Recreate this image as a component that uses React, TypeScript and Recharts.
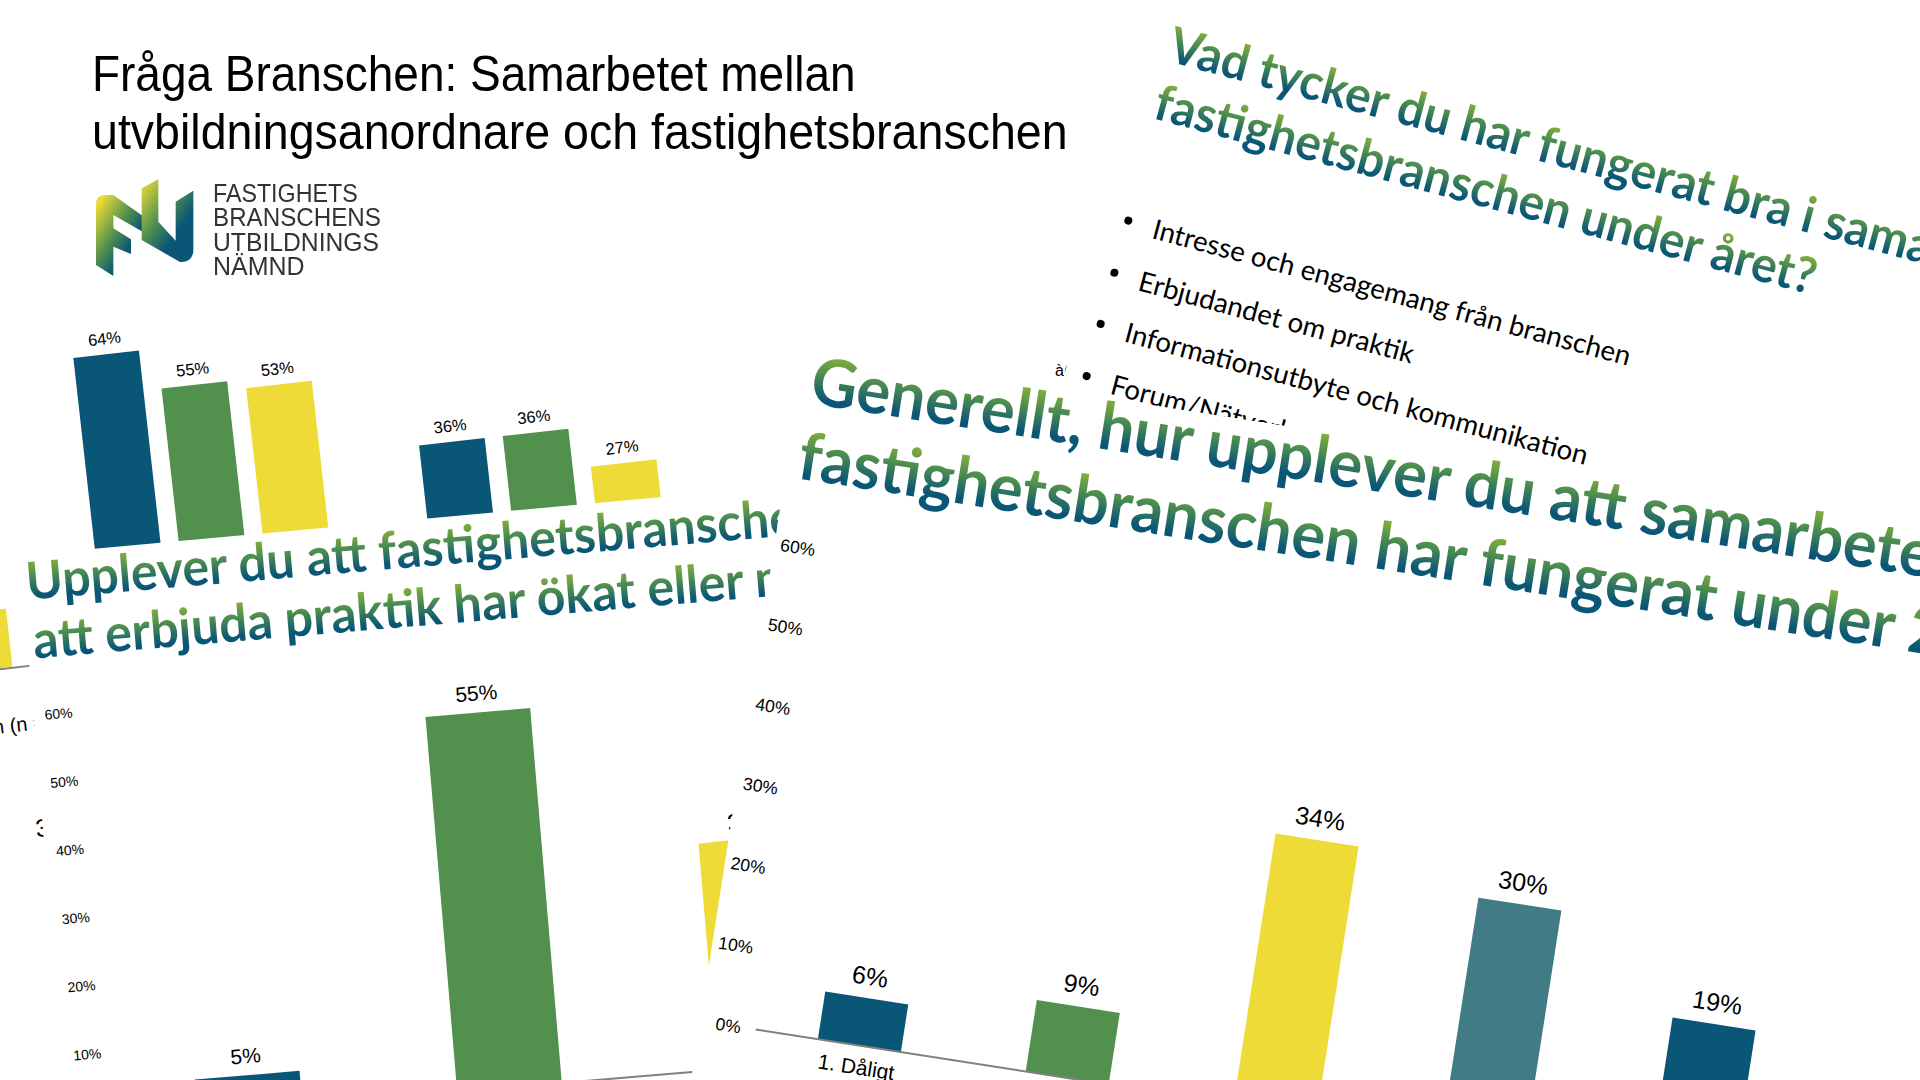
import React from "react";
import { BarChart, Bar, XAxis, YAxis, Cell, LabelList } from "recharts";

const BLUE = "#0a5676";
const GREEN = "#52904e";
const YELLOW = "#eedb38";
const TEAL = "#417b85";
const AXIS = "#808080";
const SANS = "'Liberation Sans', Arial, sans-serif";
const HEAD = "Lato, sans-serif";

// top left slide
const groupNames = ["Grupp 1", "Grupp 2"];
const firstValues = [64, 36];
const secondValues = [55, 36];
const thirdValues = [53, 27];

// "Upplever du ..." slide
const trendNames = ["Minskat", "Oförändrat", "Ökat"];
const trendValues = [5, 55, null];
const trendColors = [BLUE, GREEN, YELLOW];

// "Generellt ..." slide
const gradeNames = ["1. Dåligt", "2.", "3.", "4.", "5. Bra"];
const gradeValues = [6, 9, 34, 30, 19];
const gradeColors = [BLUE, GREEN, YELLOW, TEAL, BLUE];

// slides lying underneath, only slivers of them show
const backLeftValues = [13];
const backRightValues = [33];

const percentTicks = [0, 10, 20, 30, 40, 50, 60];

const bulletLines = [
  "Intresse och engagemang från branschen",
  "Erbjudandet om praktik",
  "Informationsutbyte och kommunikation",
  "Forum/Nätverk",
];

const logoLines = ["FASTIGHETS", "BRANSCHENS", "UTBILDNINGS", "NÄMND"];
const logoStretch = [0.894, 0.93, 0.95, 0.96];

const pct = (v: any) => (v === null || v === undefined ? "" : `${v}%`);
const toRows = (names: string[], values: any[]) => names.map((name, i) => ({ name, value: values[i] }));

const Layer = ({ angle, children }: { angle: number; children: React.ReactNode }) => (
  <div style={{ position: "absolute", left: 0, top: 0, width: 0, height: 0, transform: `rotate(${angle}deg)`, transformOrigin: "0 0" }}>
    {children}
  </div>
);

const Panel = ({ left, top, width, height, children }: any) => (
  <div style={{ position: "absolute", left, top, width, height, background: "#fff", overflow: "hidden" }}>{children}</div>
);

const HeadLine = ({ left, baseline, size, text, sx = 1 }: any) => (
  <span
    style={{
      position: "absolute",
      left,
      top: baseline - size,
      fontFamily: HEAD,
      fontWeight: 700,
      fontSize: size,
      lineHeight: `${size * 1.25}px`,
      whiteSpace: "nowrap",
      transform: `scaleX(${sx})`,
      transformOrigin: "0 0",
      color: "transparent",
      backgroundImage: "linear-gradient(180deg, #93b738 14%, #4f8f4e 42%, #0a5676 74%)",
      WebkitBackgroundClip: "text",
      backgroundClip: "text",
    }}
  >
    {text}
  </span>
);

const Plain = ({ left, top, size, text, font = SANS, color = "#000", sx = 1, lh = 1.2 }: any) => (
  <span
    style={{
      position: "absolute",
      left,
      top,
      fontFamily: font,
      fontSize: size,
      lineHeight: `${size * lh}px`,
      whiteSpace: "nowrap",
      color,
      transform: `scaleX(${sx})`,
      transformOrigin: "0 0",
    }}
  >
    {text}
  </span>
);

const Logo = () => (
  <svg style={{ position: "absolute", left: 85, top: 170 }} width={310} height={115} viewBox="0 0 930 345">
    <defs>
      <linearGradient id="logoF" x1="0.05" y1="0.1" x2="0.8" y2="0.85">
        <stop offset="0" stopColor="#eedb38" />
        <stop offset="0.45" stopColor="#52904e" />
        <stop offset="0.75" stopColor="#0a5676" />
      </linearGradient>
      <linearGradient id="logoU" x1="0.05" y1="0" x2="0.75" y2="0.8">
        <stop offset="0" stopColor="#eedb38" />
        <stop offset="0.5" stopColor="#52904e" />
        <stop offset="0.85" stopColor="#0a5676" />
      </linearGradient>
    </defs>
    <path d="M33 100 Q36 75 60 75 L85 75 L190 150 L190 195 L85 135 L85 175 L138 208 L138 252 L85 230 L85 318 L33 285 Z" fill="url(#logoF)" />
    <path d="M170 55 L220 28 L220 155 L272 212 L272 95 L325 62 L325 245 Q320 278 285 276 L170 210 Z" fill="url(#logoU)" />
  </svg>
);

export default function App() {
  return (
    <div style={{ position: "absolute", left: 0, top: 0, width: 1920, height: 1080, overflow: "hidden", background: "#fff" }}>
      {/* slides underneath */}
      <Layer angle={-6.4}>
        <div style={{ position: "absolute", left: -147.4, top: 574.4 }}>
          <BarChart width={102} height={90} data={toRows(["a"], backLeftValues)} margin={{ top: 0, right: 0, bottom: 0, left: 0 }}>
            <XAxis dataKey="name" hide />
            <YAxis hide domain={[0, 20]} />
            <Bar dataKey="value" fill={YELLOW} barSize={67} isAnimationActive={false} />
          </BarChart>
        </div>
        <div style={{ position: "absolute", left: -147, top: 664, width: 102, height: 2, background: AXIS }} />
        <div style={{ position: "absolute", left: 581, top: 885.2 }}>
          <BarChart width={150} height={179} data={toRows(["b"], backRightValues)} margin={{ top: 0, right: 0, bottom: 0, left: 0 }}>
            <XAxis dataKey="name" hide />
            <YAxis hide domain={[0, 40]} />
            <Bar dataKey="value" fill={YELLOW} barSize={132} isAnimationActive={false} />
          </BarChart>
        </div>
        <Plain left={631} top={884} size={25} text="33%" />
        <Plain left={-88} top={710} size={20} text="n (n = 33)" />
        <Plain left={-57} top={812} size={25} text="36%" />
      </Layer>
      <Plain left={1055} top={361} size={16} text="à(" />

      {/* top left slide */}
      <Plain left={92} top={44} size={50} sx={0.919} font={SANS} text="Fråga Branschen: Samarbetet mellan" />
      <Plain left={92} top={102} size={50} sx={0.931} font={SANS} text="utvbildningsanordnare och fastighetsbranschen" />
      <Logo />
      {logoLines.map((line, i) => (
        <Plain key={line} left={213} top={182 + i * 24.3} size={26} lh={0.92} sx={logoStretch[i]} color="#333" font={SANS} text={line} />
      ))}

      <Layer angle={-6.4}>
        <div style={{ position: "absolute", left: -17, top: 337 }}>
          <BarChart
            width={667.6}
            height={313.6}
            data={groupNames.map((name, i) => ({ name, a: firstValues[i], b: secondValues[i], c: thirdValues[i] }))}
            margin={{ top: 0, right: 0, bottom: 0, left: 0 }}
            barSize={66}
            barGap={18.2}
          >
            <XAxis dataKey="name" hide />
            <YAxis hide domain={[0, 70]} />
            <Bar dataKey="a" fill={BLUE} isAnimationActive={false}>
              <LabelList dataKey="a" position="top" formatter={pct} fontSize={16.5} fontFamily={SANS} fill="#000" offset={10} />
            </Bar>
            <Bar dataKey="b" fill={GREEN} isAnimationActive={false}>
              <LabelList dataKey="b" position="top" formatter={pct} fontSize={16.5} fontFamily={SANS} fill="#000" offset={10} />
            </Bar>
            <Bar dataKey="c" fill={YELLOW} isAnimationActive={false}>
              <LabelList dataKey="c" position="top" formatter={pct} fontSize={16.5} fontFamily={SANS} fill="#000" offset={10} />
            </Bar>
          </BarChart>
        </div>
      </Layer>

      {/* "Upplever du ..." slide: the heading box sits at a slightly steeper angle than its chart */}
      <Layer angle={-5.2}>
        <Panel left={-27} top={555} width={900} height={150} />
      </Layer>
      <Layer angle={-4.83}>
        <Panel left={-27} top={700} width={651.5} height={560}>
          <div style={{ position: "absolute", left: 0, top: -14.4 }}>
            <BarChart width={833.3} height={490} data={toRows(trendNames, trendValues)} margin={{ top: 30, right: 0, bottom: 0, left: 0 }}>
              <XAxis dataKey="name" height={49.6} interval={0} stroke={AXIS} strokeWidth={2} tickLine={false} tick={{ fontSize: 17, fontFamily: SANS, fill: "#000" }} />
              <YAxis width={52.3} domain={[0, 60]} ticks={percentTicks} tickFormatter={pct} axisLine={false} tickLine={false} tickMargin={7} tick={{ fontSize: 14, fontFamily: SANS, fill: "#000" }} />
              <Bar dataKey="value" barSize={105} isAnimationActive={false}>
                {trendValues.map((_, i) => (
                  <Cell key={i} fill={trendColors[i]} />
                ))}
                <LabelList dataKey="value" position="top" formatter={pct} fontSize={21} fontFamily={SANS} fill="#000" offset={12} />
              </Bar>
            </BarChart>
          </div>
        </Panel>
        <HeadLine left={-23} baseline={600} size={52} sx={0.958} text="Upplever du att fastighetsbranschens intresse för" />
        <HeadLine left={-21} baseline={659} size={52} sx={0.96} text="att erbjuda praktik har ökat eller minskat?" />
      </Layer>

      {/* "Vad tycker du ..." slide */}
      <Layer angle={15}>
        <Panel left={1125} top={-420} width={1500} height={1300} />
        <HeadLine left={1142} baseline={-243} size={50} sx={0.957} text="Vad tycker du har fungerat bra i samarbetet med" />
        <HeadLine left={1143} baseline={-184} size={50} sx={0.957} text="fastighetsbranschen under året?" />
        {bulletLines.map((line, i) => (
          <React.Fragment key={line}>
            <span style={{ position: "absolute", left: 1143, top: -83 + i * 53.6, width: 8, height: 8, borderRadius: 4, background: "#000" }} />
            <Plain left={1173} top={-95 + i * 53.6} size={27.6} font={HEAD} text={line} />
          </React.Fragment>
        ))}
      </Layer>

      {/* "Generellt ..." slide */}
      <Layer angle={8.85}>
        <div style={{ position: "absolute", left: 2.3, top: -2.5 }}>
          <Panel left={847} top={225} width={1400} height={1100}>
            <div style={{ position: "absolute", left: 0, top: 165 }}>
              <BarChart width={1107.5} height={573} data={toRows(gradeNames, gradeValues)} margin={{ top: 30, right: 0, bottom: 0, left: 0 }}>
                <XAxis dataKey="name" height={60} interval={0} stroke={AXIS} strokeWidth={2} tickLine={false} tickMargin={8} tick={{ fontSize: 21, fontFamily: SANS, fill: "#000" }} />
                <YAxis width={56} domain={[0, 60]} ticks={percentTicks} tickFormatter={pct} axisLine={false} tickLine={false} tickMargin={9} tick={{ fontSize: 17.5, fontFamily: SANS, fill: "#000" }} />
                <Bar dataKey="value" barSize={84} isAnimationActive={false}>
                  {gradeValues.map((_, i) => (
                    <Cell key={i} fill={gradeColors[i]} />
                  ))}
                  <LabelList dataKey="value" position="top" formatter={pct} fontSize={25} fontFamily={SANS} fill="#000" offset={13} />
                </Bar>
              </BarChart>
            </div>
          </Panel>
          <HeadLine left={859} baseline={276} size={66} sx={0.96} text="Generellt, hur upplever du att samarbetet mellan" />
          <HeadLine left={858} baseline={352} size={66} sx={0.96} text="fastighetsbranschen har fungerat under 2023?" />
        </div>
      </Layer>
    </div>
  );
}
